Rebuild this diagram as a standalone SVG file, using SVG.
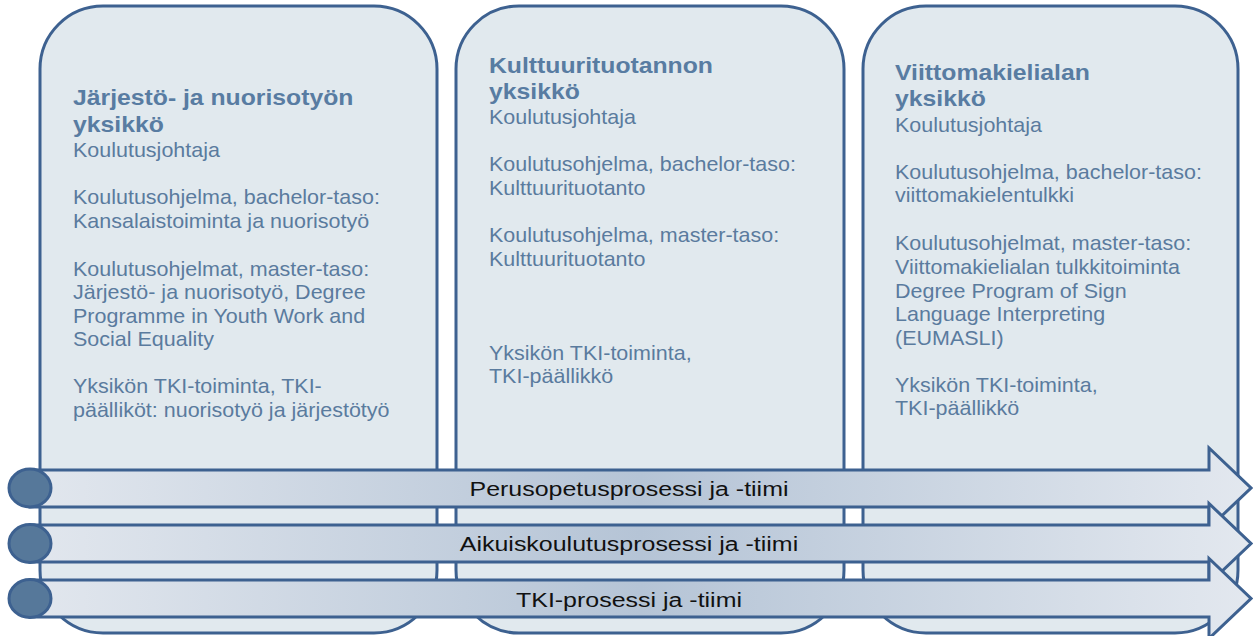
<svg xmlns="http://www.w3.org/2000/svg" width="1253" height="636" viewBox="0 0 1253 636">
<style>
.box{fill:#e1e9ee;stroke:#3d6190;stroke-width:3}
.band{fill:url(#bandGrad);stroke:#3d6190;stroke-width:3;stroke-linejoin:miter}
.dot{fill:#56789a;stroke:#3d6190;stroke-width:3}
.t{font-family:"Liberation Sans",Arial,sans-serif;fill:#5a7b9e}
.ttl{font-size:22.5px;font-weight:bold;fill:#587ca2}
.reg{font-size:20px}
.bt{font-family:"Liberation Sans",Arial,sans-serif;font-size:20.8px;fill:#111;text-anchor:middle}
</style>
<defs>
<linearGradient id="bandGrad" gradientUnits="userSpaceOnUse" x1="30" y1="0" x2="1251" y2="0">
<stop offset="0" stop-color="#e2e7ee"/>
<stop offset="0.5" stop-color="#b5c4d6"/>
<stop offset="1" stop-color="#e3e8ef"/>
</linearGradient>
</defs>
<rect width="1253" height="636" fill="#ffffff"/>

<g id="unit1">
<rect class="box" x="40" y="6" width="397" height="627" rx="63" ry="63"/>
<g class="t" transform="translate(73,0) scale(1.1,1)">
<text class="ttl" x="0" y="105">Järjestö- ja nuorisotyön</text>
<text class="ttl" x="0" y="132">yksikkö</text>
</g>
<g class="t reg" transform="translate(73,0) scale(1.075,1)">
<text x="0" y="157">Koulutusjohtaja</text>
<text x="0" y="204.5">Koulutusohjelma, bachelor-taso:</text>
<text x="0" y="228">Kansalaistoiminta ja nuorisotyö</text>
<text x="0" y="276">Koulutusohjelmat, master-taso:</text>
<text x="0" y="299.5">Järjestö- ja nuorisotyö, Degree</text>
<text x="0" y="323">Programme in Youth Work and</text>
<text x="0" y="346.5">Social Equality</text>
<text x="0" y="393.5">Yksikön TKI-toiminta, TKI-</text>
<text x="0" y="417">päälliköt: nuorisotyö ja järjestötyö</text>
</g>
</g>

<g id="unit2">
<rect class="box" x="456" y="6" width="388" height="627" rx="63" ry="63"/>
<g class="t" transform="translate(489,0) scale(1.1,1)">
<text class="ttl" x="0" y="72.7">Kulttuurituotannon</text>
<text class="ttl" x="0" y="99">yksikkö</text>
</g>
<g class="t reg" transform="translate(489,0) scale(1.075,1)">
<text x="0" y="124">Koulutusjohtaja</text>
<text x="0" y="171.5">Koulutusohjelma, bachelor-taso:</text>
<text x="0" y="195">Kulttuurituotanto</text>
<text x="0" y="242.5">Koulutusohjelma, master-taso:</text>
<text x="0" y="266">Kulttuurituotanto</text>
<text x="0" y="360">Yksikön TKI-toiminta,</text>
<text x="0" y="383.5">TKI-päällikkö</text>
</g>
</g>

<g id="unit3">
<rect class="box" x="863" y="6" width="375" height="627" rx="63" ry="63"/>
<g class="t" transform="translate(895,0) scale(1.1,1)">
<text class="ttl" x="0" y="80">Viittomakielialan</text>
<text class="ttl" x="0" y="106.5">yksikkö</text>
</g>
<g class="t reg" transform="translate(895,0) scale(1.075,1)">
<text x="0" y="131.7">Koulutusjohtaja</text>
<text x="0" y="178.7">Koulutusohjelma, bachelor-taso:</text>
<text x="0" y="202.5">viittomakielentulkki</text>
<text x="0" y="250">Koulutusohjelmat, master-taso:</text>
<text x="0" y="274">Viittomakielialan tulkkitoiminta</text>
<text x="0" y="297.7">Degree Program of Sign</text>
<text x="0" y="321.5">Language Interpreting</text>
<text x="0" y="345">(EUMASLI)</text>
<text x="0" y="392">Yksikön TKI-toiminta,</text>
<text x="0" y="415.5">TKI-päällikkö</text>
</g>
</g>

<g id="connectors">
<g id="process1">
<path class="band" d="M30,470 H1209 V448 L1251,488 L1209,528 V507 H30 Z"/>
<ellipse class="dot" cx="30" cy="488" rx="21" ry="19"/>
<text class="bt" transform="translate(629,496) scale(1.2,1)">Perusopetusprosessi ja -tiimi</text>
</g>
<g id="process2">
<path class="band" d="M30,525 H1209 V503.5 L1251,543.5 L1209,583.5 V562 H30 Z"/>
<ellipse class="dot" cx="30" cy="543.5" rx="21" ry="19"/>
<text class="bt" transform="translate(629,551) scale(1.2,1)">Aikuiskoulutusprosessi ja -tiimi</text>
</g>
<g id="process3">
<path class="band" d="M30,580 H1209 V558.5 L1251,598.5 L1209,638.5 V617 H30 Z"/>
<ellipse class="dot" cx="30" cy="598.5" rx="21" ry="19"/>
<text class="bt" transform="translate(629,606.5) scale(1.2,1)">TKI-prosessi ja -tiimi</text>
</g>
</g>
</svg>
